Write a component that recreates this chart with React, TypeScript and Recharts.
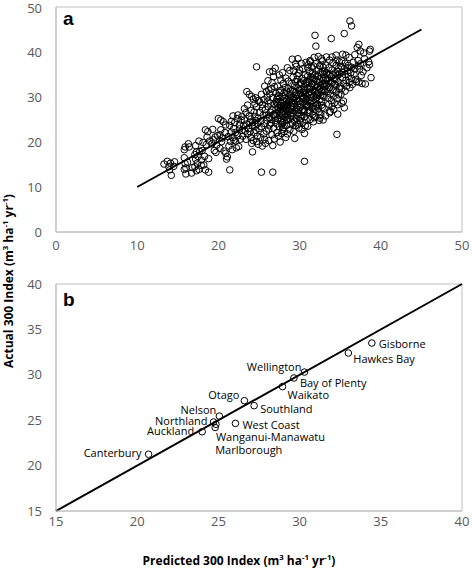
import React from 'react';
import {
  ScatterChart,
  Scatter,
  XAxis,
  YAxis,
  ReferenceLine,
  ReferenceArea,
} from 'recharts';

// --- Panel a: plot-level predicted vs actual 300 Index ---
const plotsBelow17: [number, number][] = [
  [13.3, 15.1], [13.7, 15.7], [14.1, 15.3], [14.6, 15.6], [14.0, 13.8], [14.2, 12.6], [13.9, 14.5], [14.5, 14.6],
  [15.8, 18.3], [15.9, 18.9], [16.3, 19.6], [16.4, 18.9], [15.8, 16.5], [15.9, 15.2], [16.0, 14.2], [15.8, 13.9],
  [16.0, 12.9], [16.7, 13.1], [16.2, 15.5], [16.8, 14.3],
];
const plots17to21: [number, number][] = [
  [17.1, 17.2], [17.3, 17.8], [17.5, 16.8], [17.7, 17.9], [17.2, 16.2], [17.4, 15.3], [17.1, 14.5], [17.3, 13.6],
  [17.6, 13.9], [17.9, 14.8], [18.2, 14.9], [18.4, 13.8], [18.8, 13.3], [18.3, 16.8], [18.0, 18.1], [18.5, 19.4],
  [18.9, 20.2], [18.4, 22.7], [18.7, 22.3], [17.6, 20.2], [17.2, 19.2], [18.6, 21.1], [18.1, 19.9], [18.8, 16.3],
  [17.9, 16.0], [19.2, 19.6], [19.4, 20.5], [19.6, 21.1], [19.9, 21.4], [20.2, 21.6], [20.5, 20.9], [19.8, 19.3],
  [20.2, 18.6], [20.7, 18.0], [20.9, 17.5], [21.0, 16.2], [21.1, 16.7], [19.5, 18.1], [20.0, 25.2], [20.3, 24.9],
  [20.6, 24.5], [20.9, 23.8], [20.3, 22.7], [20.8, 22.1], [19.3, 22.8], [19.7, 17.7], [20.4, 20.1],
];
const plots21to25: [number, number][] = [
  [21.4, 13.8], [21.2, 21.2], [21.3, 19.1], [21.5, 20.1], [21.8, 21.0], [21.6, 22.2], [21.9, 23.0], [21.4, 23.7],
  [22.0, 24.3], [22.3, 25.2], [21.8, 25.8], [21.6, 24.6], [22.1, 22.1], [22.4, 21.4], [22.7, 20.6], [22.5, 19.0],
  [22.2, 18.7], [22.9, 22.6], [22.6, 23.8], [22.8, 24.9], [22.4, 26.0], [23.0, 21.3], [21.7, 18.3], [22.9, 25.7],
  [22.1, 20.2], [23.5, 31.2], [23.8, 30.6], [24.1, 30.1], [24.3, 29.5], [23.6, 28.2], [23.2, 27.4], [23.4, 26.5],
  [23.8, 25.8], [24.0, 25.1], [24.2, 24.3], [24.5, 23.5], [23.7, 23.0], [23.3, 22.4], [23.6, 21.8], [24.0, 21.0],
  [24.3, 20.3], [24.1, 19.7], [24.2, 17.8], [24.6, 22.6], [24.8, 24.0], [24.9, 25.3], [24.4, 26.7], [24.7, 27.8],
  [24.9, 29.2], [24.6, 29.8], [24.7, 36.7], [23.9, 24.4], [24.4, 22.0], [23.5, 24.0], [24.0, 27.0], [24.5, 28.5],
  [23.1, 23.6], [23.9, 22.3], [24.8, 21.3], [24.5, 25.7], [24.2, 23.6], [23.4, 20.6], [24.7, 20.1], [24.9, 19.5],
];
const plots25to27: [number, number][] = [
  [25.3, 13.3], [25.4, 19.1], [25.8, 19.7], [25.2, 21.0], [25.6, 21.8], [25.9, 22.4], [26.2, 22.9], [25.3, 23.4],
  [25.7, 24.1], [26.0, 24.8], [26.3, 25.4], [25.5, 25.9], [25.1, 26.6], [25.8, 27.2], [26.1, 27.9], [26.4, 28.6],
  [25.4, 28.3], [25.6, 29.4], [26.0, 30.0], [26.3, 30.7], [25.3, 30.6], [25.9, 31.2], [26.2, 31.6], [26.7, 35.7],
  [26.3, 35.6], [27.0, 36.4], [26.8, 34.5], [26.6, 33.2], [26.9, 32.3], [26.5, 31.8], [26.7, 29.9], [26.9, 28.4],
  [26.6, 27.1], [26.8, 26.0], [26.5, 24.2], [26.8, 23.1], [26.6, 21.6], [26.9, 20.7], [26.7, 19.2], [26.7, 13.3],
  [25.7, 20.6], [26.2, 20.3], [25.2, 24.6], [26.4, 26.6], [25.1, 28.9], [25.7, 32.4], [26.1, 33.6],
];
const plots27to29: [number, number][] = [
  [27.1, 30.8], [27.2, 29.5], [27.3, 28.4], [27.4, 27.6], [27.5, 26.8], [27.6, 25.9], [27.7, 24.7], [27.8, 23.9],
  [27.9, 22.8], [27.2, 22.1], [27.4, 21.3], [27.6, 20.0], [27.8, 21.9], [28.0, 23.2], [28.1, 24.6], [28.2, 25.5],
  [28.3, 26.3], [28.4, 27.1], [28.5, 28.0], [28.6, 28.8], [28.7, 29.7], [28.8, 30.5], [28.9, 31.3], [28.2, 32.1],
  [28.0, 33.0], [27.7, 33.8], [27.5, 34.9], [27.9, 35.4], [28.3, 34.2], [28.6, 33.5], [28.8, 35.9], [28.5, 36.5],
  [27.3, 32.4], [27.1, 27.3], [27.3, 25.2], [27.5, 23.4], [27.2, 24.0], [27.9, 26.2], [27.8, 27.9], [27.6, 29.0],
  [27.9, 30.1], [28.1, 31.0], [28.4, 29.4], [28.2, 28.3], [28.0, 27.5], [28.7, 26.8], [28.9, 25.7], [28.6, 24.9],
  [28.4, 23.7], [28.8, 22.7], [28.5, 21.8], [28.3, 21.0], [28.1, 22.3], [27.4, 30.3], [27.7, 31.5], [27.0, 26.0],
  [27.0, 24.8], [28.9, 27.9], [28.9, 23.9], [27.6, 28.1], [28.3, 30.4], [28.6, 31.9], [28.0, 29.1], [27.8, 25.1],
  [28.5, 26.0], [27.4, 29.0], [27.2, 26.3],
];
const plots29to31: [number, number][] = [
  [29.1, 38.4], [29.8, 38.5], [30.2, 37.5], [29.6, 36.8], [29.3, 35.8], [29.9, 35.3], [30.4, 36.3], [30.7, 34.9],
  [29.2, 34.4], [29.7, 33.9], [30.1, 33.2], [30.5, 33.6], [30.9, 32.9], [29.0, 33.0], [29.4, 32.5], [29.8, 32.0],
  [30.2, 31.7], [30.6, 31.4], [31.0, 31.9], [29.1, 31.5], [29.5, 31.0], [29.9, 30.6], [30.3, 30.2], [30.7, 30.5],
  [29.2, 30.0], [29.6, 29.6], [30.0, 29.1], [30.4, 28.8], [30.8, 29.4], [29.3, 28.5], [29.7, 28.1], [30.1, 27.7],
  [30.5, 27.2], [30.9, 27.9], [29.0, 27.3], [29.4, 26.9], [29.8, 26.4], [30.2, 26.0], [30.6, 25.6], [31.0, 26.5],
  [29.2, 25.7], [29.6, 25.2], [30.0, 24.8], [30.4, 24.4], [30.8, 24.9], [29.1, 24.2], [29.5, 23.6], [29.9, 23.1],
  [30.3, 22.8], [29.4, 20.8], [30.6, 21.9], [30.6, 15.7], [29.3, 22.4], [30.7, 23.6], [29.7, 34.8], [30.3, 34.1],
  [29.5, 37.4], [30.8, 37.7], [31.0, 36.5], [30.0, 36.0], [29.9, 32.7], [30.5, 29.9], [29.6, 27.5], [30.2, 25.3],
  [29.8, 24.0], [30.9, 28.3], [30.1, 30.9], [29.4, 29.2], [30.6, 32.3], [29.2, 26.3],
];
const plots31to33: [number, number][] = [
  [31.9, 43.7], [32.0, 41.3], [31.3, 38.1], [31.8, 38.8], [32.3, 39.0], [32.7, 38.5], [31.1, 37.2], [31.5, 36.7],
  [32.0, 37.4], [32.5, 37.0], [32.9, 36.6], [31.2, 35.6], [31.6, 35.2], [32.1, 35.8], [32.6, 35.4], [33.0, 35.0],
  [31.4, 34.5], [31.8, 34.0], [32.2, 34.6], [32.7, 34.2], [31.1, 33.4], [31.5, 33.0], [31.9, 32.6], [32.4, 33.2],
  [32.8, 32.8], [31.2, 32.0], [31.6, 31.6], [32.0, 31.2], [32.5, 31.8], [32.9, 31.4], [31.3, 30.6], [31.7, 30.2],
  [32.1, 29.8], [32.6, 30.4], [33.0, 30.0], [31.4, 29.2], [31.8, 28.8], [32.2, 28.4], [32.7, 29.0], [31.1, 28.1],
  [31.5, 27.6], [31.9, 27.2], [32.3, 27.5], [32.8, 27.7], [31.2, 26.6], [31.6, 26.1], [32.0, 25.6], [32.5, 25.3],
  [32.6, 26.0], [32.4, 24.8], [31.3, 25.0], [31.7, 24.5], [31.0, 23.5], [32.9, 33.7], [31.4, 31.1], [32.3, 36.2],
  [31.7, 36.9], [32.8, 38.0], [32.1, 30.6], [31.9, 29.5], [32.4, 26.7], [31.2, 27.0], [32.7, 28.2], [31.6, 34.2],
  [31.3, 37.8], [32.2, 32.3], [31.8, 25.4], [32.9, 24.9], [31.0, 34.7], [32.5, 36.9],
];
const plots33to35: [number, number][] = [
  [33.9, 43.0], [33.3, 38.9], [33.7, 38.2], [34.1, 37.6], [34.5, 37.0], [34.9, 37.8], [33.2, 37.1], [33.6, 36.5],
  [34.0, 36.0], [34.4, 35.4], [34.8, 36.3], [33.1, 35.7], [33.5, 35.0], [33.9, 34.5], [34.3, 34.0], [34.7, 34.8],
  [33.2, 34.2], [33.6, 33.6], [34.0, 33.1], [34.4, 32.6], [34.8, 33.3], [33.3, 32.7], [33.7, 32.1], [34.1, 31.6],
  [34.5, 31.1], [34.9, 31.9], [33.4, 31.2], [33.8, 30.7], [34.2, 30.2], [34.6, 29.7], [33.5, 29.8], [33.9, 29.2],
  [34.3, 28.7], [34.7, 28.3], [33.6, 28.4], [34.0, 27.9], [33.8, 26.8], [33.7, 26.5], [34.7, 26.2], [34.6, 21.7],
  [33.2, 25.8], [33.0, 27.5], [34.2, 27.2], [33.4, 33.9], [34.6, 38.2], [34.9, 35.1], [33.1, 31.3], [34.5, 39.3],
  [34.0, 38.9], [34.8, 30.5],
];
const plotsAbove35: [number, number][] = [
  [36.2, 46.9], [36.4, 45.8], [35.5, 44.1], [35.3, 39.5], [35.7, 39.3], [36.1, 38.8], [36.8, 39.4], [37.3, 41.7],
  [37.1, 41.0], [35.2, 38.0], [35.6, 37.5], [36.0, 37.0], [36.4, 36.6], [36.8, 36.2], [37.2, 36.9], [35.1, 36.8],
  [35.5, 36.3], [35.9, 35.8], [36.3, 35.4], [36.7, 35.0], [35.2, 35.5], [35.6, 35.0], [36.0, 34.6], [36.4, 34.1],
  [36.9, 33.9], [35.3, 34.3], [35.7, 33.7], [36.1, 33.2], [36.5, 32.8], [35.4, 33.0], [35.8, 32.4], [35.2, 31.9],
  [35.6, 31.3], [35.1, 30.6], [35.4, 29.1], [35.2, 28.6], [35.5, 27.6], [36.2, 32.1], [37.0, 33.4], [36.6, 37.7],
  [35.0, 32.4], [35.9, 36.5], [37.5, 40.2], [37.9, 39.8], [38.5, 37.8], [38.6, 37.2], [38.7, 40.6], [38.6, 40.2],
  [38.1, 32.9], [38.8, 34.3], [37.4, 36.2], [37.8, 35.6], [37.6, 34.8], [37.3, 33.3], [37.7, 33.0], [38.0, 38.5],
  [37.2, 38.1], [38.3, 36.5], [37.5, 37.4],
];
// the dense, nearly solid core of the cloud
const plotsCore: [number, number][] = [
  [26.5, 25.0], [26.9, 25.6], [27.1, 28.9], [27.3, 30.0], [27.5, 31.0], [27.7, 26.5], [27.8, 28.6], [27.9, 24.3],
  [28.0, 26.8], [28.1, 28.0], [28.2, 29.7], [28.3, 27.7], [28.4, 25.0], [28.4, 31.3], [28.6, 27.4], [28.7, 25.3],
  [28.8, 29.2], [28.9, 26.4], [29.0, 28.9], [29.1, 29.6], [29.2, 27.8], [29.3, 31.2], [29.4, 24.6], [29.5, 33.4],
  [29.6, 30.4], [29.7, 26.0], [29.8, 29.0], [29.9, 27.1], [30.0, 31.5], [30.1, 28.4], [30.2, 32.9], [30.3, 27.0],
  [30.4, 29.6], [30.5, 31.0], [30.6, 26.8], [30.7, 28.6], [30.8, 33.3], [30.9, 30.1], [31.0, 29.0], [31.1, 30.9],
  [31.2, 33.8], [31.3, 28.6], [31.4, 32.2], [31.5, 29.9], [31.6, 32.9], [31.7, 27.9], [31.8, 31.3], [31.9, 34.9],
  [32.0, 28.0], [32.1, 33.5], [32.2, 30.4], [32.3, 31.0], [32.4, 34.0], [32.5, 29.4], [32.6, 32.6], [32.7, 31.1],
  [32.8, 35.6], [32.9, 30.3], [33.0, 33.0], [33.1, 32.3], [33.3, 35.3], [33.5, 31.7], [33.7, 34.9], [33.9, 33.2],
  [34.1, 35.0], [34.3, 32.9], [34.5, 33.9], [34.7, 35.7], [24.6, 24.8], [25.0, 23.0], [25.4, 27.5], [25.9, 26.0],
  [26.1, 29.1], [26.3, 23.8], [23.2, 24.9], [22.6, 22.9], [21.9, 20.4],
];

const plotData = [
  ...plotsBelow17, ...plots17to21, ...plots21to25, ...plots25to27, ...plots27to29,
  ...plots29to31, ...plots31to33, ...plots33to35, ...plotsAbove35, ...plotsCore,
].map(([predicted, actual]) => ({ predicted, actual }));

// --- Panel b: regional means ---
const regions = [
  'Gisborne', 'Hawkes Bay', 'Wellington', 'Bay of Plenty', 'Waikato', 'Southland', 'Otago',
  'Nelson', 'West Coast', 'Northland', 'Wanganui-Manawatu', 'Marlborough', 'Auckland', 'Canterbury',
];
const regionPredicted = [34.45, 33.0, 30.3, 29.65, 28.95, 27.2, 26.6, 25.06, 26.05, 24.7, 24.85, 24.8, 24.0, 20.7];
const regionActual = [33.5, 32.4, 30.3, 29.65, 28.7, 26.6, 27.15, 25.45, 24.65, 24.8, 24.55, 24.2, 23.73, 21.25];

const regionData = regions.map((name, i) => ({
  name,
  predicted: regionPredicted[i],
  actual: regionActual[i],
}));

const ticksA = [0, 10, 20, 30, 40, 50];
const ticksB = [15, 20, 25, 30, 35, 40];

// label offsets (px) relative to each point
const labelPlacement: Record<string, { dx: number; dy: number; anchor: 'start' | 'end' }> = {
  Gisborne: { dx: 7, dy: 0, anchor: 'start' },
  'Hawkes Bay': { dx: 5, dy: 5, anchor: 'start' },
  Wellington: { dx: -3, dy: -6, anchor: 'end' },
  'Bay of Plenty': { dx: 6, dy: 5, anchor: 'start' },
  Waikato: { dx: 5, dy: 8, anchor: 'start' },
  Southland: { dx: 6, dy: 3, anchor: 'start' },
  Otago: { dx: -5, dy: -6, anchor: 'end' },
  Nelson: { dx: -3, dy: -7, anchor: 'end' },
  'West Coast': { dx: 7, dy: 1, anchor: 'start' },
  Northland: { dx: -6, dy: -2, anchor: 'end' },
  'Wanganui-Manawatu': { dx: 0, dy: 12, anchor: 'start' },
  Marlborough: { dx: 0, dy: 22, anchor: 'start' },
  Auckland: { dx: -8, dy: -1, anchor: 'end' },
  Canterbury: { dx: -7, dy: -2, anchor: 'end' },
};

const FONT = '"Open Sans", "Noto Sans", sans-serif';
const TICK = { fontSize: 13, fill: '#595959', fontFamily: FONT };
const BOX = '#bfbfbf';

const OpenCircle = (props: any) => (
  <circle cx={props.cx} cy={props.cy} r={3.3} fill="none" stroke="#000" strokeWidth={1} />
);

const RegionPoint = (props: any) => {
  const { cx, cy, payload } = props;
  const p = labelPlacement[payload.name];
  return (
    <g>
      <circle cx={cx} cy={cy} r={3.3} fill="none" stroke="#000" strokeWidth={1} />
      <text
        x={cx + p.dx}
        y={cy + p.dy}
        textAnchor={p.anchor}
        dominantBaseline="central"
        fontSize={11}
        fontFamily={FONT}
        fill="#000"
      >
        {payload.name}
      </text>
    </g>
  );
};

const Units = () => (
  <>
    (m<sup style={{ fontSize: '0.65em', lineHeight: 0 }}>3</sup> ha
    <sup style={{ fontSize: '0.65em', lineHeight: 0 }}>-1</sup> yr
    <sup style={{ fontSize: '0.65em', lineHeight: 0 }}>-1</sup>)
  </>
);

const panelLetter: React.CSSProperties = {
  position: 'absolute',
  left: 63,
  fontFamily: '"Liberation Sans", Arial, sans-serif',
  fontWeight: 'bold',
  fontSize: 19,
  lineHeight: '19px',
};

const axisTitle: React.CSSProperties = {
  position: 'absolute',
  whiteSpace: 'nowrap',
  fontWeight: 'bold',
  fontSize: 12,
  color: '#000',
};

export default function App() {
  return (
    <div style={{ position: 'absolute', left: 0, top: 0, width: 472, height: 569, background: '#fff', fontFamily: FONT }}>
      <div style={{ position: 'absolute', left: 0, top: 0 }}>
        <ScatterChart width={472} height={260} margin={{ top: 7, right: 10, bottom: 0, left: 0 }}>
          <XAxis
            type="number"
            dataKey="predicted"
            domain={[0, 50]}
            ticks={ticksA}
            height={28}
            tick={TICK}
            tickLine={false}
            tickMargin={3}
            axisLine={{ stroke: BOX }}
          />
          <YAxis
            type="number"
            dataKey="actual"
            domain={[0, 50]}
            ticks={ticksA}
            width={56}
            tick={TICK}
            tickLine={false}
            tickMargin={8}
            axisLine={{ stroke: BOX }}
          />
          <ReferenceArea x1={0} x2={50} y1={0} y2={50} fill="none" stroke={BOX} strokeWidth={1} />
          <Scatter data={plotData} shape={OpenCircle} isAnimationActive={false} />
          <ReferenceLine
            segment={[{ x: 10, y: 10 }, { x: 45, y: 45 }]}
            stroke="#000"
            strokeWidth={2}
          />
        </ScatterChart>
      </div>
      <div style={{ ...panelLetter, top: 9 }}>a</div>

      <div style={{ position: 'absolute', left: 0, top: 260 }}>
        <ScatterChart width={472} height={275} margin={{ top: 24, right: 10, bottom: 0, left: 0 }}>
          <XAxis
            type="number"
            dataKey="predicted"
            domain={[15, 40]}
            ticks={ticksB}
            height={24}
            tick={TICK}
            tickLine={false}
            tickMargin={0}
            axisLine={{ stroke: BOX }}
          />
          <YAxis
            type="number"
            dataKey="actual"
            domain={[15, 40]}
            ticks={ticksB}
            width={56}
            tick={TICK}
            tickLine={false}
            tickMargin={8}
            axisLine={{ stroke: BOX }}
          />
          <ReferenceArea x1={15} x2={40} y1={15} y2={40} fill="none" stroke={BOX} strokeWidth={1} />
          <ReferenceLine
            segment={[{ x: 15, y: 15 }, { x: 40, y: 40 }]}
            stroke="#000"
            strokeWidth={2}
          />
          <Scatter data={regionData} shape={RegionPoint} isAnimationActive={false} />
        </ScatterChart>
      </div>
      <div style={{ ...panelLetter, top: 290 }}>b</div>

      <div style={{ ...axisTitle, left: 239, top: 560, transform: 'translate(-50%, -50%)' }}>
        Predicted 300 Index <Units />
      </div>
      <div style={{ ...axisTitle, left: 8, top: 281, transform: 'translate(-50%, -50%) rotate(-90deg)' }}>
        Actual 300 Index <Units />
      </div>
    </div>
  );
}
